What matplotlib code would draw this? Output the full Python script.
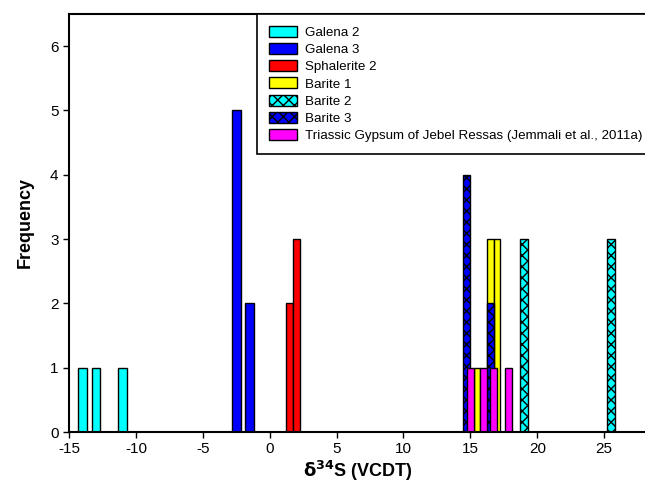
import matplotlib
matplotlib.use("Agg")
import matplotlib.pyplot as plt

plt.rcParams["font.family"] = ["Liberation Sans", "DejaVu Sans"]
plt.rcParams["hatch.linewidth"] = 1.0
plt.rcParams["axes.unicode_minus"] = False

# bar centres (delta34S) and frequencies
galena2_x = [-14.0, -13.0, -11.0]
galena2_y = [1, 1, 1]
galena3_x = [-2.5, -1.5]
galena3_y = [5, 2]
sphal2_x = [1.5, 2.0]
sphal2_y = [2, 3]
barite1_x = [15.5, 16.5, 17.0]
barite1_y = [1, 3, 3]
barite2_x = [19.0, 25.5]
barite2_y = [3, 3]
barite3_x = [14.7, 16.5]
barite3_y = [4, 2]
gypsum_x = [15.0, 16.0, 16.75, 17.85]
gypsum_y = [1, 1, 1, 1]

fig = plt.figure(figsize=(6.45, 4.91), dpi=100)
ax = fig.add_axes([69 / 645, 59 / 491, 578 / 645, 418 / 491])

kw = dict(edgecolor="black", linewidth=1.0)
ax.bar(galena2_x, galena2_y, width=0.62, color="#00ffff", label="Galena 2", **kw)
ax.bar(galena3_x, galena3_y, width=0.64, color="#0000ff", label="Galena 3", **kw)
ax.bar(sphal2_x, sphal2_y, width=0.5, color="#ff0000", label="Sphalerite 2", **kw)
ax.bar(barite1_x, barite1_y, width=0.5, color="#ffff00", label="Barite 1", **kw)
ax.bar(barite2_x, barite2_y, width=0.6, color="#00ffff", hatch="xxx", label="Barite 2", **kw)
ax.bar(barite3_x, barite3_y, width=0.55, color="#0000ff", hatch="xxx", label="Barite 3", **kw)
ax.bar(gypsum_x, gypsum_y, width=0.55, color="#ff00ff",
       label="Triassic Gypsum of Jebel Ressas (Jemmali et al., 2011a)", **kw)

ax.set_xlim(-15, 28.2)
ax.set_ylim(0, 6.5)
ax.set_xticks([-15, -10, -5, 0, 5, 10, 15, 20, 25])
ax.set_yticks(range(0, 7))
ax.tick_params(direction="out", length=4, width=1, labelsize=11)
for s in ax.spines.values():
    s.set_linewidth(1.5)

ax.set_xlabel(r"$\mathbf{\delta^{34}}$S (VCDT)", fontsize=13, fontweight="bold", labelpad=2)
ax.set_ylabel("Frequency", fontsize=13, fontweight="bold", labelpad=12)

leg = ax.legend(loc="upper right", bbox_to_anchor=(1.013, 1.0), borderaxespad=0,
                fontsize=9.6, labelspacing=0.3, handlelength=2.1, handleheight=0.9,
                handletextpad=0.6, borderpad=0.9, fancybox=False, framealpha=1)
leg.get_frame().set_edgecolor("black")
leg.get_frame().set_linewidth(1.2)

fig.savefig("out.png", dpi=100)
